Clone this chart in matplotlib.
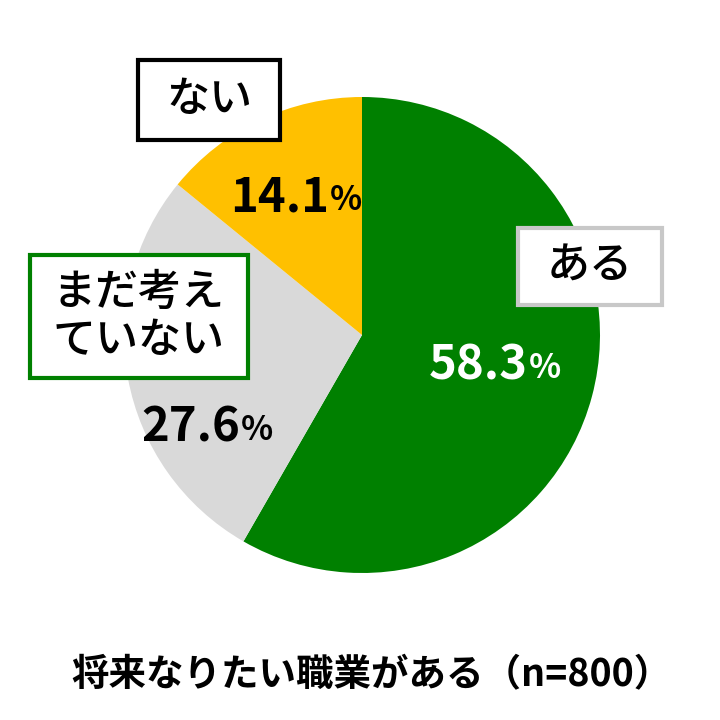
import matplotlib
matplotlib.use("Agg")
import matplotlib.pyplot as plt
from matplotlib.patches import Rectangle

plt.rcParams['font.family'] = ['Noto Sans CJK JP', 'DejaVu Sans']

categories = ["ある", "まだ考え\nていない", "ない"]
values = [58.3, 27.6, 14.1]
colors = ["#008000", "#d9d9d9", "#ffc000"]
title = "将来なりたい職業がある（n=800）"

fig = plt.figure(figsize=(7.2, 7.2), dpi=100)
ax = fig.add_axes([0, 0, 1, 1])

ax.pie(values, colors=colors, startangle=90, counterclock=False,
       center=(362, 385), radius=238, frame=True,
       wedgeprops=dict(linewidth=0))
ax.set_xlim(0, 720)
ax.set_ylim(0, 720)
ax.set_aspect('equal')
ax.axis('off')

# percentage labels
pct_pos = [(528, 355), (240, 292), (329, 523)]
pct_col = ["white", "black", "black"]
for v, (x, y), c in zip(values, pct_pos, pct_col):
    ax.text(x, y, f"{v:.1f}", ha='right', va='center', fontsize=34,
            fontweight='bold', color=c)
    ax.text(x + 1, y - 3, "%", ha='left', va='center', fontsize=24,
            fontweight='bold', color=c)

# category boxes
boxes = [(518, 415, 144, 77, "#c8c8c8"),
         (30, 342, 218, 123, "#008000"),
         (138, 580, 142, 80, "#000000")]
for cat, (x, y, w, h, ec) in zip(categories, boxes):
    ax.add_patch(Rectangle((x, y), w, h, facecolor='white', edgecolor=ec,
                           linewidth=3, zorder=3))
    ax.text(x + w / 2, y + h / 2, cat, ha='center', va='center',
            fontsize=31, fontweight='medium', color='black', zorder=4,
            linespacing=1.15)

ax.text(371, 45, title, ha='center', va='center', fontsize=27,
        fontweight='bold', color='black')

fig.savefig("out.png", dpi=100)
